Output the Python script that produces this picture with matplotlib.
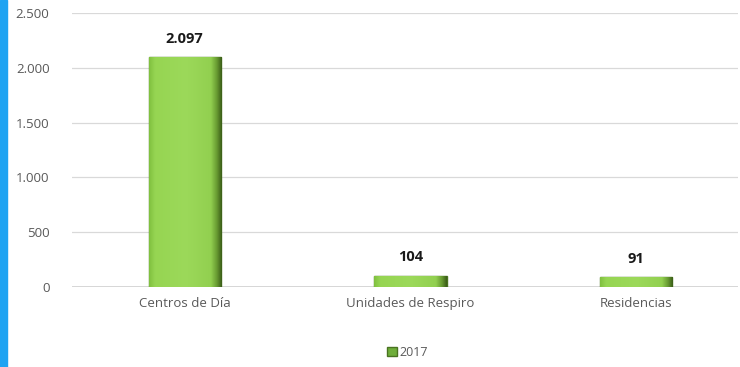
import numpy as np
import matplotlib.pyplot as plt
from matplotlib.patches import Rectangle
from matplotlib.colors import LinearSegmentedColormap

categories = ["Centros de Día", "Unidades de Respiro", "Residencias"]
values_2017 = [2097, 104, 91]
yticks = [0, 500, 1000, 1500, 2000, 2500]
ytick_labels = ["0", "500", "1.000", "1.500", "2.000", "2.500"]

plt.rcParams['font.family'] = ['Open Sans', 'DejaVu Sans']

fig = plt.figure(figsize=(7.4, 3.67), dpi=100)
# blue strip on the left edge
fig.patches.append(Rectangle((0, 0), 0.0095, 1, transform=fig.transFigure,
                             color='#1ea3f2', zorder=0))

ax = fig.add_axes([0.097, 0.218, 0.9, 0.747])
x = range(len(categories))
bars = ax.bar(x, values_2017, width=0.32, color='#92d050', edgecolor='#4a7321',
              linewidth=1.0, zorder=3, label='2017')

# horizontal shading: bright green body, dark strip at the right edge
green = LinearSegmentedColormap.from_list('bevel', [
    (0.0, '#80c040'), (0.08, '#96d552'), (0.5, '#9cd95a'),
    (0.85, '#92d050'), (0.93, '#6a9e33'), (1.0, '#3c5f18')])
grad = np.linspace(0, 1, 128).reshape(1, -1)
for b in bars:
    im = ax.imshow(grad, cmap=green, aspect='auto', zorder=3.5,
                   extent=[b.get_x(), b.get_x() + b.get_width(), 0, b.get_height()])
    im.set_clip_path(b)

for xi, v in zip(x, values_2017):
    ax.annotate(f"{v:,}".replace(",", "."), (xi, v), xytext=(0, 8),
                textcoords='offset points', ha='center', va='bottom',
                fontsize=10.5, fontweight='bold', color='#1a1a1a')

ax.set_ylim(0, 2500)
ax.set_xlim(-0.5, 2.45)
ax.set_yticks(yticks)
ax.set_yticklabels(ytick_labels)
ax.set_xticks(list(x))
ax.set_xticklabels(categories)
ax.tick_params(axis='both', length=0, labelsize=9.5, colors='#595959')
ax.tick_params(axis='y', pad=16)
ax.tick_params(axis='x', pad=7)
ax.yaxis.grid(True, color='#d9d9d9', linewidth=0.9, zorder=0)
for s in ax.spines.values():
    s.set_visible(False)
ax.axhline(0, color='#d0d0d0', linewidth=1.2, zorder=2)

handles = [Rectangle((0, 0), 1, 1, facecolor='#6fae3a', edgecolor='#4a7321')]
fig.legend(handles, ['2017'], loc='center', bbox_to_anchor=(0.55, 0.04),
           frameon=False, fontsize=9, handlelength=0.8, handleheight=0.8,
           handletextpad=0.2, labelcolor='#595959')

fig.savefig('out.png', dpi=100)
